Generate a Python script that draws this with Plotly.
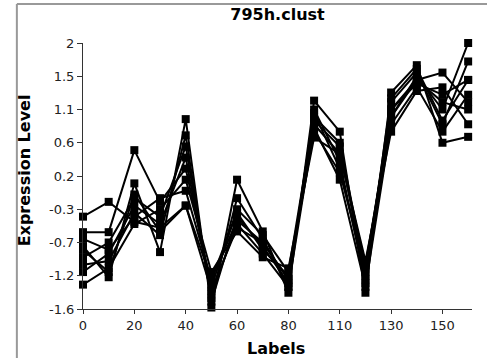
import plotly.graph_objects as go

# category labels along the x axis (one entry per time point)
labels = ["0", "10", "20", "30", "40", "50", "60", "70", "80", "90",
          "110", "120", "130", "140", "150", "160"]
shown_labels = ["0", "20", "40", "60", "80", "110", "130", "150"]

y_ticks = [-1.6, -1.15, -0.7, -0.25, 0.2, 0.65, 1.1, 1.55, 2.0]
y_tick_text = ["-1.6", "-1.2", "-0.7", "-0.3", "0.2", "0.6", "1.1", "1.5", "2"]

# expression profiles of the genes in the cluster
gene_1 = [-0.35, -0.15, -0.42, -0.5, -0.2, -1.2, -0.4, -0.7, -1.2, 0.9, 0.5, -1.0, 1.0, 1.5, 1.6, 1.2]
gene_2 = [-0.56, -0.56, 0.55, -0.15, 0.3, -1.3, -0.25, -0.6, -1.1, 1.0, 0.65, -1.1, 1.1, 1.45, 1.3, 1.5]
gene_3 = [-0.75, -1.17, 0.1, -0.83, 0.97, -1.58, 0.15, -0.55, -1.38, 1.22, 0.8, -1.38, 1.33, 1.7, 0.65, 0.73]
gene_4 = [-0.9, -0.7, -0.1, -0.35, 0.6, -1.45, -0.1, -0.65, -1.3, 1.1, 0.4, -1.25, 1.2, 1.6, 0.9, 1.75]
gene_5 = [-1.0, -0.95, -0.3, -0.6, 0.75, -1.5, -0.35, -0.75, -1.25, 1.05, 0.3, -1.15, 1.0, 1.55, 1.1, 2.0]
gene_6 = [-1.1, -0.85, -0.2, -0.45, 0.45, -1.4, -0.45, -0.85, -1.3, 0.85, 0.15, -1.3, 0.9, 1.4, 0.8, 1.3]
gene_7 = [-1.27, -1.05, -0.45, -0.25, 0.15, -1.1, -0.55, -0.9, -1.05, 0.72, 0.5, -0.95, 0.8, 1.35, 1.4, 0.9]
gene_8 = [-0.65, -0.8, -0.35, -0.1, 0.0, -1.2, -0.3, -0.8, -1.15, 0.8, 0.25, -1.05, 1.1, 1.5, 1.2, 1.1]
gene_9 = [-0.8, -1.1, -0.05, -0.55, -0.2, -1.35, -0.5, -0.7, -1.2, 0.95, 0.6, -1.2, 1.25, 1.65, 0.95, 1.5]

genes = [gene_1, gene_2, gene_3, gene_4, gene_5, gene_6, gene_7, gene_8, gene_9]

fig = go.Figure()
for g in genes:
    fig.add_trace(go.Scatter(
        x=labels, y=g, mode="lines+markers",
        line=dict(color="black", width=2),
        marker=dict(symbol="square", size=8, color="black"),
        cliponaxis=False, showlegend=False,
    ))

axis_font = dict(family="DejaVu Sans", size=13, color="#222")
fig.update_xaxes(
    type="category", categoryorder="array", categoryarray=labels,
    range=[0, 15.15], tickmode="array", tickvals=shown_labels, ticktext=shown_labels,
    showline=True, linecolor="#333", linewidth=1, ticks="outside", ticklen=4,
    tickcolor="#333", showgrid=False, zeroline=False, tickfont=axis_font,
)
fig.update_yaxes(
    range=[-1.6, 2.0], tickmode="array", tickvals=y_ticks, ticktext=y_tick_text,
    showline=True, linecolor="#333", linewidth=1, ticks="outside", ticklen=5,
    tickcolor="#333", showgrid=False, zeroline=False, tickfont=axis_font,
)

bold = dict(family="DejaVu Sans", size=16, color="black", weight="bold")
fig.update_layout(
    width=487, height=358,
    margin=dict(l=83, r=15, t=43, b=49),
    plot_bgcolor="white", paper_bgcolor="white",
    title=dict(text="795h.clust", x=0.5, xref="paper", xanchor="center",
               y=1 - 14 / 358, yref="container", yanchor="middle", font=bold),
    annotations=[
        dict(text="Expression Level", x=-0.15, y=0.52, xref="paper", yref="paper",
             xanchor="center", yanchor="middle",
             textangle=-90, showarrow=False, font=bold),
        dict(text="Labels", x=0.495, y=-0.147, xref="paper", yref="paper",
             xanchor="center", yanchor="middle", showarrow=False, font=bold),
    ],
    shapes=[
        dict(type="line", xref="paper", yref="paper", x0=-0.17, x1=1.2, y0=1.147, y1=1.147,
             line=dict(color="#999", width=2)),
        dict(type="line", xref="paper", yref="paper", x0=-0.17, x1=-0.17, y0=1.147, y1=-0.3,
             line=dict(color="#999", width=2)),
    ],
)

# drop the page's default body margin so the figure sits at the window corner
fig.write_html("out.html", config={"displayModeBar": False},
               post_script="document.body.style.margin='0px';")
